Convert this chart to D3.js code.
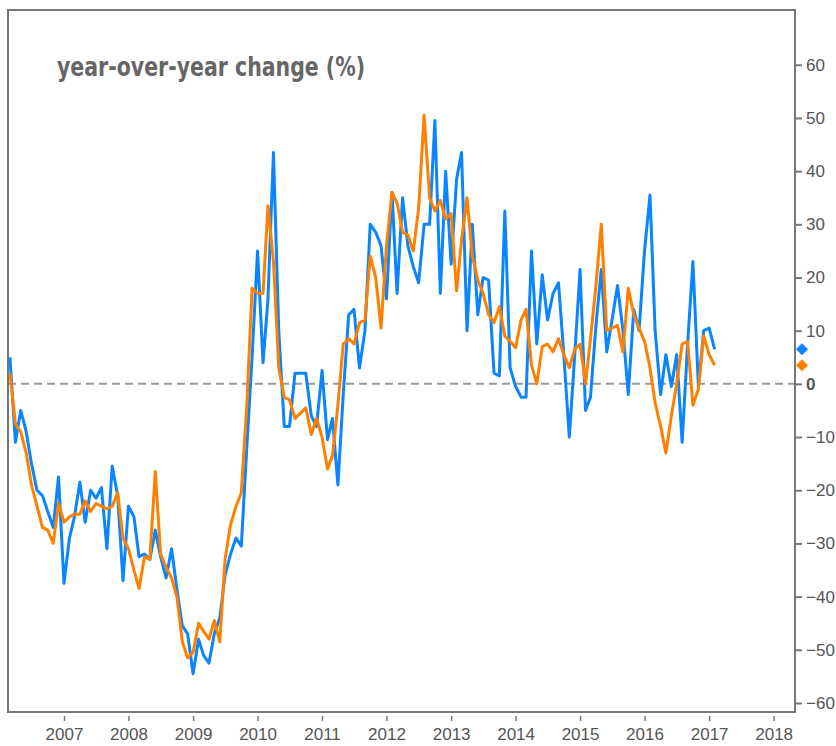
<!DOCTYPE html>
<html>
<head>
<meta charset="utf-8">
<script src="https://cdnjs.cloudflare.com/ajax/libs/d3/7.8.5/d3.min.js"></script>
<style>
  body { margin: 0; background: #fff; }
  svg { display: block; }
</style>
</head>
<body>
<div id="chart"></div>
<script>
// monthly values, first point March 2006
var startMonth = new Date(2006, 2, 1);

var blueSeries = [
  5, -11, -5, -9, -15, -20, -21, -24, -27, -17.5,
  -37.5, -29, -25, -18.5, -26, -20, -21.5, -19.5, -31, -15.5, -21, -37,
  -23, -25, -32.5, -32, -33, -27.5, -32.5, -36.5, -31, -38.5, -45.5, -47,
  -54.5, -48, -51, -52.5, -47, -44, -36, -32, -29, -30.5, -12, 5,
  25, 4, 16, 43.5, 10, -8, -8, 2, 2, 2, -6, -8,
  2.5, -10.5, -6.5, -19, -2, 13, 14, 3, 10, 30, 28.5, 26,
  16, 36, 17, 35, 26, 22, 19, 30, 30, 49.5, 17, 40,
  22.5, 38.5, 43.5, 10, 30, 13, 20, 19.5, 2, 1.5, 32.5, 3,
  -0.5, -2.5, -2.5, 25, 7.5, 20.5, 12, 17, 19, 5.5, -10, 5,
  21.5, -5, -2.5, 11, 21.5, 6, 12, 18.5, 10, -2, 14, 10,
  25, 35.5, 10, -2, 5.5, -0.5, 5.5, -11, 7.5, 23, -0.5, 10,
  10.5, 6.5
];

var orangeSeries = [
  2, -7.5, -9, -13, -19, -23, -27, -27.5, -30, -22.5,
  -26, -25, -24.5, -24.5, -22, -24, -22.5, -23, -23.5, -23, -20.5, -29,
  -31, -35, -38.5, -32.5, -33, -16.5, -32, -34.5, -36.5, -40, -48.5, -51.5,
  -50.5, -45, -46.5, -48, -44.5, -48.5, -33, -26.5, -23, -20.5, -4, 18,
  17, 17, 33.5, 23, 3, -2.5, -3, -6.5, -5.5, -4.5, -9.5, -6.5,
  -10, -16, -13.5, -4, 7.5, 8.5, 7.5, 11.5, 12, 24, 20, 10.5,
  26, 36, 34, 28.5, 28, 25, 33, 50.5, 35, 32.5, 34.5, 31,
  32, 17.5, 27, 35, 24, 19.5, 17, 13, 11.5, 14.5, 9, 8,
  6.8, 12, 14, 3.5, 0, 7, 7.5, 6, 8.5, 5.5, 3, 6.5,
  7.5, 0, 8.5, 18.5, 30, 10, 10.5, 11, 6, 18, 13, 10.5,
  8, 3, -3.5, -8, -13, -6, 0, 7.5, 8, -4, -1, 9,
  5.5, 3.5
];

var yTicks = [60, 50, 40, 30, 20, 10, 0, -10, -20, -30, -40, -50, -60];
var xTickYears = [2007, 2008, 2009, 2010, 2011, 2012, 2013, 2014, 2015, 2016, 2017, 2018];
var titleText = 'year-over-year change (%)';

var width = 836, height = 746;
var plotLeft = 8, plotTop = 10, plotRight = 795, plotBottom = 712;
var blue = '#0a84ff', orange = '#ff8000';
var font = '"DejaVu Sans Condensed", "DejaVu Sans", sans-serif';

var x = d3.scaleTime()
  .domain([new Date(2006, 1, 18), new Date(2018, 4, 2)])
  .range([plotLeft, plotRight]);
var y = d3.scaleLinear()
  .domain([-61.7, 70.3])
  .range([plotBottom, plotTop]);

var toPoints = s => s.map((v, i) => ({ date: d3.timeMonth.offset(startMonth, i), value: v }));
var bluePts = toPoints(blueSeries);
var orangePts = toPoints(orangeSeries);

var svg = d3.select('#chart')
  .append('svg')
  .attr('width', width)
  .attr('height', height)
  .attr('font-family', font);

// zero line
svg.append('line')
  .attr('x1', plotLeft).attr('x2', plotRight)
  .attr('y1', y(0)).attr('y2', y(0))
  .attr('stroke', '#999')
  .attr('stroke-width', 2)
  .attr('stroke-dasharray', '8,5');

var line = d3.line()
  .x(d => x(d.date))
  .y(d => y(d.value));

svg.append('path')
  .datum(bluePts)
  .attr('fill', 'none')
  .attr('stroke', blue)
  .attr('stroke-width', 3)
  .attr('stroke-linejoin', 'round')
  .attr('d', line);

svg.append('path')
  .datum(orangePts)
  .attr('fill', 'none')
  .attr('stroke', orange)
  .attr('stroke-width', 3)
  .attr('stroke-linejoin', 'round')
  .attr('d', line);

// frame
svg.append('rect')
  .attr('x', plotLeft).attr('y', plotTop)
  .attr('width', plotRight - plotLeft).attr('height', plotBottom - plotTop)
  .attr('fill', 'none')
  .attr('stroke', '#777')
  .attr('stroke-width', 2);

// right axis
var yAxis = svg.append('g')
  .attr('transform', 'translate(' + plotRight + ',0)')
  .call(d3.axisRight(y).tickValues(yTicks).tickSize(7).tickPadding(4).tickFormat(d3.format('d')));
yAxis.select('.domain').remove();
yAxis.selectAll('line').attr('stroke', '#777').attr('stroke-width', 2);
yAxis.selectAll('text')
  .attr('fill', '#555')
  .attr('font-size', 17)
  .attr('font-weight', d => d === 0 ? 'bold' : 'normal');

// bottom axis
var xAxis = svg.append('g')
  .attr('transform', 'translate(0,' + (plotBottom + 4) + ')')
  .call(d3.axisBottom(x)
    .tickValues(xTickYears.map(yr => new Date(yr, 0, 1)))
    .tickSize(5).tickPadding(7)
    .tickFormat(d3.timeFormat('%Y')));
xAxis.select('.domain').remove();
xAxis.selectAll('line').attr('stroke', '#777').attr('stroke-width', 1.5);
xAxis.selectAll('text')
  .attr('fill', '#555')
  .attr('font-size', 17);

// last-value markers
var diamond = d3.symbol().type(d3.symbolSquare).size(72);
[[bluePts, blue], [orangePts, orange]].forEach(function(p) {
  var last = p[0][p[0].length - 1];
  svg.append('path')
    .attr('d', diamond)
    .attr('fill', p[1])
    .attr('transform', 'translate(' + (plotRight + 7) + ',' + y(last.value) + ') rotate(45)');
});

// title, slightly stretched vertically like the original rendering
var title = svg.append('text')
  .attr('x', 0)
  .attr('y', 0)
  .attr('fill', '#666')
  .attr('font-weight', 'bold')
  .attr('font-size', 22)
  .attr('transform', 'translate(57,76) scale(1,1.15)')
  .text(titleText);
var tw = title.node().getComputedTextLength();
title.attr('font-size', 22 * 308 / tw);
</script>
</body>
</html>
